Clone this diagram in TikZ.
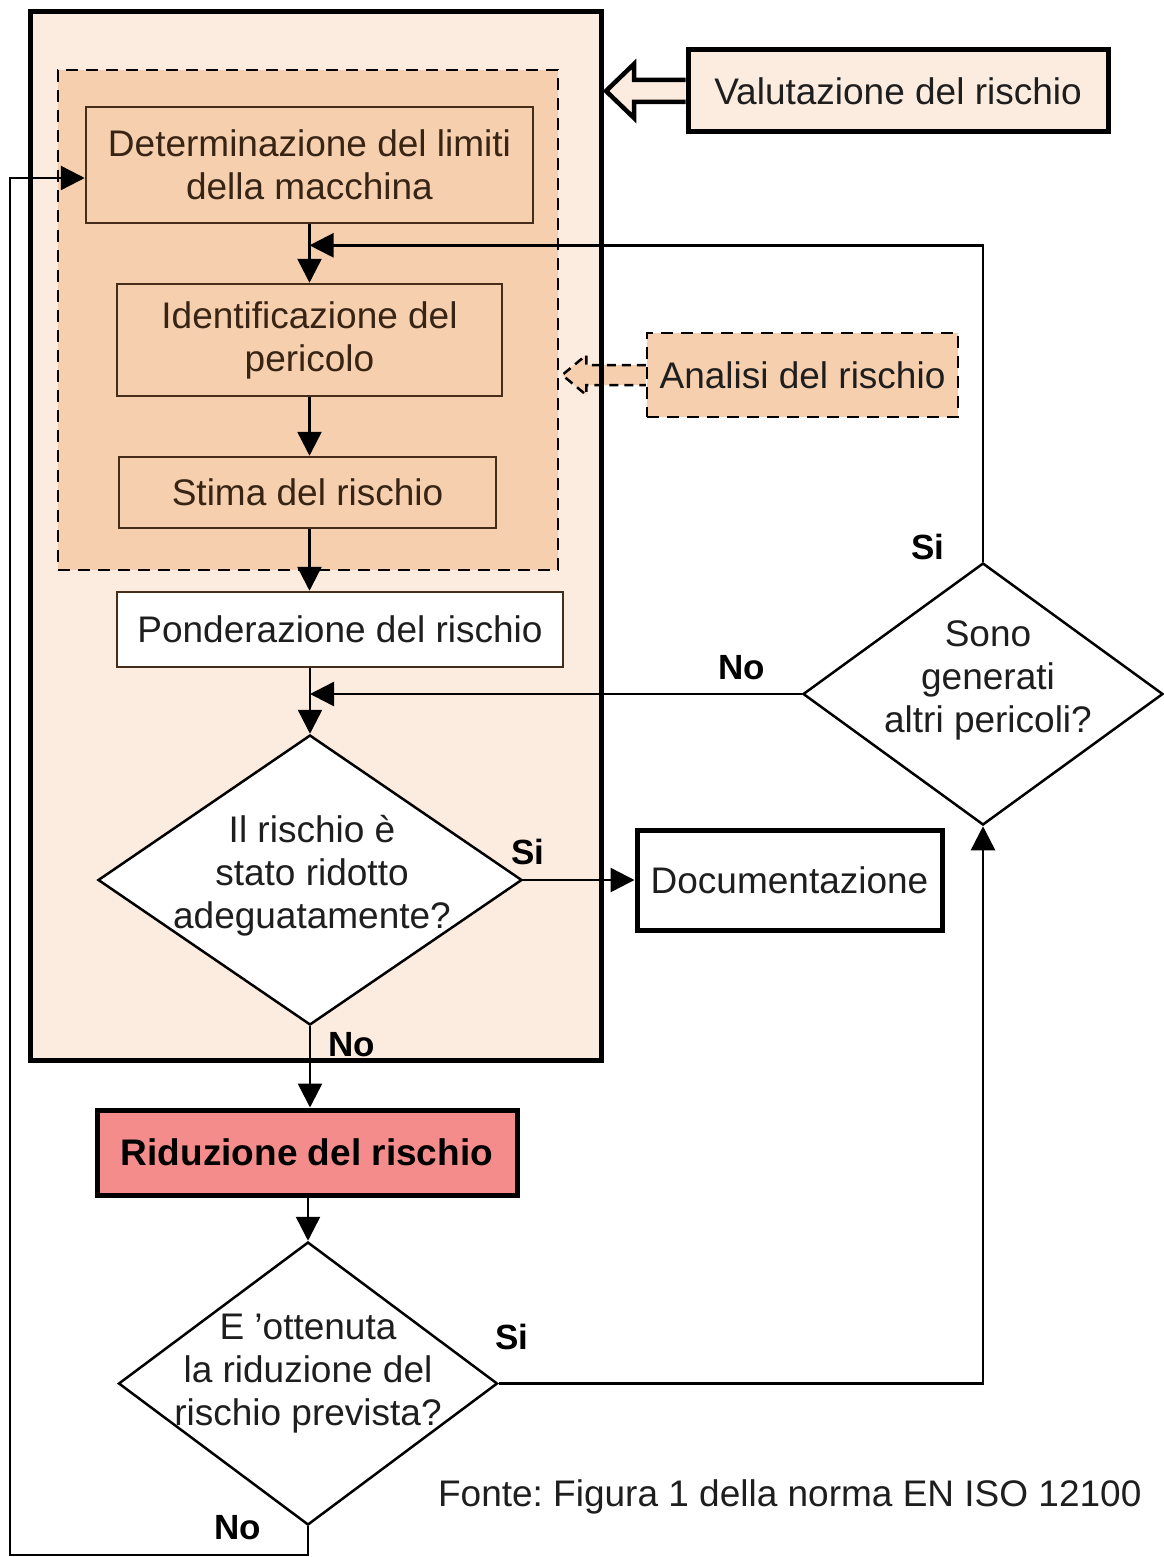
\documentclass[tikz,border=0pt]{standalone}
\usepackage{fontspec}
\setmainfont{Liberation Sans}
\usetikzlibrary{arrows.meta,shapes.geometric,calc}
\definecolor{outerfill}{RGB}{252,236,224}
\definecolor{innerfill}{RGB}{245,207,174}
\definecolor{redfill}{RGB}{245,140,140}
\definecolor{brownline}{RGB}{70,45,25}
\definecolor{txtgray}{RGB}{30,30,30}
\tikzset{
  every node/.style={font=\fontsize{37}{43}\selectfont, text=txtgray},
  innerbox/.style={draw=brownline, line width=2.5pt, fill=innerfill, rectangle, inner sep=0pt, text=brownline!80!black, align=center},
  plainbox/.style={draw=brownline, line width=2.5pt, fill=white, rectangle, inner sep=0pt, align=center},
  thickbox/.style={draw=black, line width=5pt, rectangle, inner sep=0pt, align=center},
  dia/.style={draw=black, line width=2.5pt, diamond, fill=white, inner sep=0pt},
  lbl/.style={font=\bfseries\fontsize{35}{40}\selectfont, text=black},
  arr/.style={draw=black, line width=2.5pt, -{Triangle[length=24pt,width=24pt]}},
}
\begin{document}
\frenchspacing
\begin{tikzpicture}[x=1pt,y=-1pt]
\useasboundingbox (0,0) rectangle (1163,1557);
% outer assessment area
\node[draw=black, line width=5pt, fill=outerfill, minimum width=571pt, minimum height=1048pt, inner sep=0pt, outer sep=0pt] (outer) at (315.5,536) {};
\node[draw=black, line width=2.5pt, dash pattern=on 12pt off 8pt, fill=innerfill, minimum width=500pt, minimum height=500pt, inner sep=0pt] (dash) at (308,320) {};
% boxes
\node[innerbox, minimum width=447pt, minimum height=116pt] (b1) at (309.5,165) {Determinazione del limiti\\della macchina};
\node[innerbox, minimum width=385pt, minimum height=112pt] (b2) at (309.5,340) {Identificazione del\\pericolo};
\node[innerbox, minimum width=377pt, minimum height=71pt] (b3) at (307.5,492.5) {Stima del rischio};
\node[plainbox, minimum width=446pt, minimum height=75pt] (b4) at (340,629.5) {Ponderazione del rischio};
\node[dia, minimum width=424pt, minimum height=290pt] (d1) at (310,880) {};
\node[align=center] (d1t) at (312,876) {Il rischio è\\stato ridotto\\adeguatamente?};
\node[thickbox, fill=white, minimum width=305pt, minimum height=100pt] (doc) at (789.5,880) {Documentazione};
\node[thickbox, fill=redfill, minimum width=420pt, minimum height=85pt, font=\bfseries\fontsize{37}{43}\selectfont, text=black] (rid) at (307,1152.5) {Riduzione del rischio};
\node[dia, minimum width=379pt, minimum height=283pt] (d2) at (308,1383.5) {};
\node[align=center] (d2t) at (308,1374) {E 'ottenuta\\la riduzione del\\rischio prevista?};
\node[dia, minimum width=360pt, minimum height=262pt] (d3) at (983,694) {};
\node[align=center] (d3t) at (988,680) {Sono\\generati\\altri pericoli?};
\node[thickbox, fill=outerfill, minimum width=420pt, minimum height=82pt] (val) at (898,91) {Valutazione del rischio};
\node[draw=black, line width=2.5pt, dash pattern=on 12pt off 8pt, fill=innerfill, minimum width=311pt, minimum height=84pt, inner sep=0pt] (ana) at (802.5,375) {Analisi del rischio};
% hollow arrows
\coordinate (t1) at ($(outer.east |- val.west)+(5,0)$);
\draw[line width=4.5pt, fill=outerfill, line join=miter]
  ($(val.west)+(0,-11)$) -- ($(t1)+(28,-11)$) -- ($(t1)+(28,-27)$) -- (t1)
  -- ($(t1)+(28,27)$) -- ($(t1)+(28,11)$) -- ($(val.west)+(0,11)$);
\coordinate (t2) at ($(dash.east |- ana.west)+(3,0)$);
\draw[line width=2.5pt, dash pattern=on 9pt off 6pt, fill=innerfill]
  ($(ana.west)+(0,-10)$) -- ($(t2)+(24,-10)$) -- ($(t2)+(24,-20)$) -- (t2)
  -- ($(t2)+(24,20)$) -- ($(t2)+(24,10)$) -- ($(ana.west)+(0,10)$);
% outer border drawn over the dashed arrow
\draw[line width=5pt] (outer.north east) -- (outer.south east);
% junction coordinates
\coordinate (j1) at ($(b1.south)!0.36!(b2.north)$);
\coordinate (j2) at (d1.north |- d3.west);
\coordinate (lb) at (10,1555);
% connectors
\draw[arr] (b1.south) -- (b2.north);
\draw[arr] (b2.south) -- (b2.south |- b3.north);
\draw[arr] (b3.south -| b2.south) -- (b2.south |- b4.north);
\draw[arr] (d1.north |- b4.south) -- (d1.north);
\draw[arr] (d3.north) |- (j1);
\draw[arr] (d3.west) -- (j2);
\draw[arr] (d1.east) -- (doc.west);
\draw[arr] (d1.south) -- (rid.north -| d1.south);
\draw[arr] (rid.south -| d2.north) -- (d2.north);
\draw[arr] (d2.east) -| (d3.south);
\draw[arr] (d2.south) |- (lb) |- ($(b1.west)+(0,13)$);
% labels
\node[lbl] (l1) at (928,547) {Si};
\node[lbl] (l2) at (742,668) {No};
\node[lbl] (l3) at (528,852) {Si};
\node[lbl] (l4) at (352,1045) {No};
\node[lbl] (l5) at (512,1337) {Si};
\node[lbl] (l6) at (238,1528) {No};
\node[anchor=east] (src) at (1145,1497) {Fonte: Figura 1 della norma EN ISO 12100};
\end{tikzpicture}
\end{document}
